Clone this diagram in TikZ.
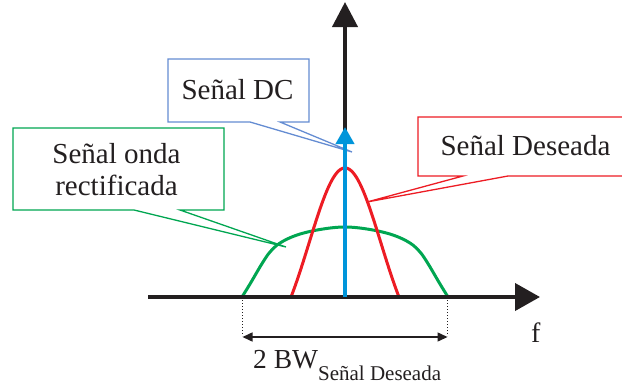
\documentclass[tikz,border=0pt]{standalone}
\usepackage{fontspec}
\setmainfont{Liberation Serif}
\usetikzlibrary{arrows.meta}
\definecolor{axisc}{RGB}{35,31,32}
\definecolor{redc}{RGB}{237,28,36}
\definecolor{greenc}{RGB}{0,166,81}
\definecolor{bluea}{RGB}{0,149,218}
\definecolor{bluec}{RGB}{100,140,210}
\tikzset{
  callout/.style={line width=1.3pt, fill=white, line join=miter},
  lbl/.style={inner sep=0pt, anchor=base, font=\fontsize{29}{32}\selectfont, text=axisc},
  axisline/.style={line width=4pt, draw=axisc},
  curve/.style={line width=3pt},
}
\begin{document}
\begin{tikzpicture}[x=1pt,y=-1pt]
\useasboundingbox (0,0) rectangle (622,389);
% tips
\coordinate (dctip) at (352,152);
\coordinate (grtip) at (286,247);
\coordinate (rdtip) at (367,202);
% callouts
\draw[callout, draw=bluec] (168,59) -- (309,59) -- (309,122) -- (280,122) -- (dctip) -- (250,122) -- (168,122) -- cycle;
\draw[callout, draw=greenc] (13,128) -- (224,128) -- (224,210) -- (180,210) -- (grtip) -- (134,210) -- (13,210) -- cycle;
\draw[callout, draw=redc] (418,117) -- (630,117) -- (630,176) -- (508,176) -- (rdtip) -- (463,176) -- (418,176) -- cycle;
\node[lbl] (dc) at (237.5,99) {Señal DC};
\node[lbl] (gr1) at (116.5,163) {Señal onda};
\node[lbl] (gr2) at (116.5,195) {rectificada};
\node[lbl] (rd) at (525.5,155) {Señal Deseada};
% curves
\draw[curve, draw=greenc] plot[smooth, tension=0.6] coordinates {(242,297) (250,284) (257,272) (263,262) (270,252) (280,243) (297,235) (320,229.5) (345,227) (370,229.5) (393,235) (410,243) (420,252) (427,262) (433,272) (440,284) (448,297)};
\draw[curve, draw=redc] plot[domain=-54:54, samples=120] ({345+\x}, {297-129*(exp(0-(\x)*(\x)/2592)-0.325)/0.675});
% axes
\coordinate (o) at (345,297);
\coordinate (xl) at (148,297);
\coordinate (xr) at (540,297);
\coordinate (yt) at (345,2);
\draw[axisline, -{Triangle[length=25pt,width=27pt]}] (xl) -- (xr);
\draw[axisline, -{Triangle[length=25pt,width=25pt]}] (o) -- (yt);
\coordinate (dct) at (345,127);
\draw[line width=4pt, draw=bluea, -{Triangle[length=17pt,width=18pt]}] (o) -- (dct);
% bandwidth
\coordinate (bl) at (242.5,297);
\coordinate (br) at (447.5,297);
\coordinate (bla) at (242.5,337);
\coordinate (bra) at (447.5,337);
\draw[line width=1pt, dotted, draw=axisc] (bl) -- (242.5,336);
\draw[line width=1pt, dotted, draw=axisc] (br) -- (447.5,336);
\draw[line width=1.5pt, draw=axisc, {Triangle[length=10pt,width=9pt]}-{Triangle[length=10pt,width=9pt]}] (bla) -- (bra);
\node[inner sep=0pt, anchor=base west, font=\fontsize{27.5}{30}\selectfont, text=axisc] (bw) at (253,368) {2 BW\raisebox{-12pt}{\fontsize{21}{24}\selectfont Señal Deseada}};
\node[inner sep=0pt, anchor=base west, font=\fontsize{28}{30}\selectfont, text=axisc] (f) at (531,342) {f};
\end{tikzpicture}
\end{document}
